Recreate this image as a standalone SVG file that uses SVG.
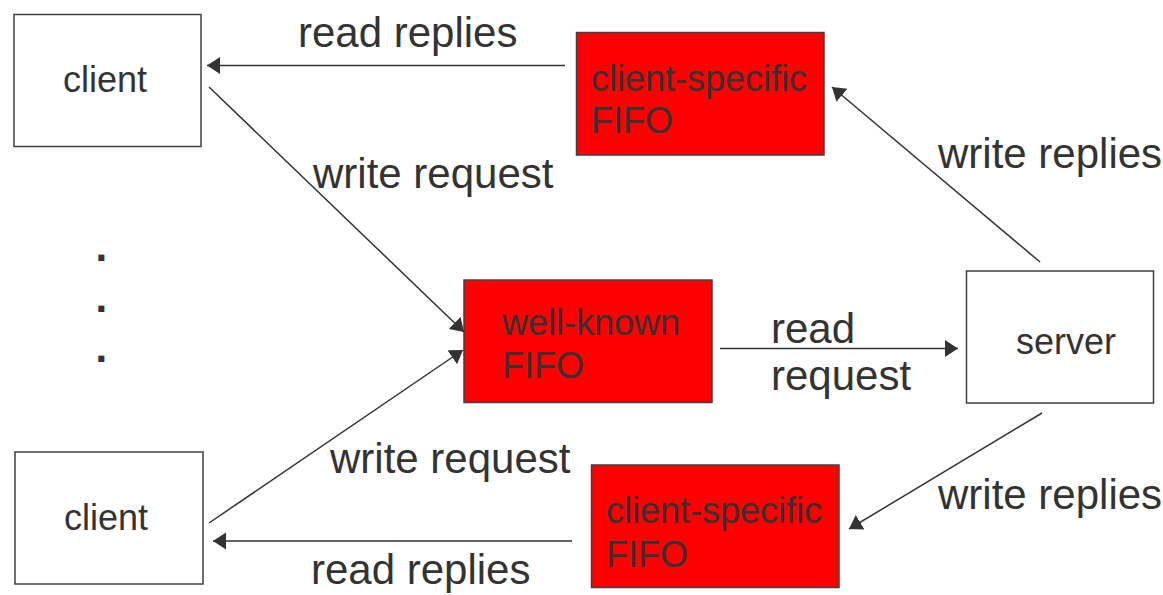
<svg xmlns="http://www.w3.org/2000/svg" width="1163" height="595" viewBox="0 0 1163 595">
<style>
  .box { fill: #ffffff; stroke: #404040; stroke-width: 1.5; }
  .fifo { fill: #ff0000; stroke: #404040; stroke-width: 1.5; }
  .t { font-family: "Liberation Sans", Arial, sans-serif; fill: #333333; }
  .node { font-size: 36px; }
  .ftxt { font-size: 36px; }
  .lbl { font-size: 42px; }
  .dot { font-size: 42px; font-weight: bold; }
  .conn { stroke: #333333; stroke-width: 1.5; fill: none; marker-end: url(#arr); }
</style>
<defs>
  <marker id="arr" markerUnits="userSpaceOnUse" markerWidth="14" markerHeight="18" refX="13" refY="8.5" orient="auto">
    <path d="M0,0 L13,8.5 L0,17 z" fill="#333333"/>
  </marker>
</defs>
<rect width="1163" height="595" fill="#ffffff"/>

<g id="client-top">
  <rect class="box" x="14" y="14.5" width="187" height="132"/>
  <text class="t node" x="105" y="92" text-anchor="middle">client</text>
</g>
<g id="client-bottom">
  <rect class="box" x="15" y="452" width="188" height="132"/>
  <text class="t node" x="106" y="530" text-anchor="middle">client</text>
</g>
<g id="fifo-top">
  <rect class="fifo" x="576.5" y="32.5" width="247.5" height="122.5"/>
  <text class="t ftxt" x="591" y="91">client-specific</text>
  <text class="t ftxt" x="591" y="133">FIFO</text>
</g>
<g id="fifo-well-known">
  <rect class="fifo" x="464" y="280" width="248" height="122.5"/>
  <text class="t ftxt" x="502" y="335">well-known</text>
  <text class="t ftxt" x="502" y="378">FIFO</text>
</g>
<g id="fifo-bottom">
  <rect class="fifo" x="591.5" y="465" width="247.5" height="122.5"/>
  <text class="t ftxt" x="606" y="523">client-specific</text>
  <text class="t ftxt" x="606" y="567">FIFO</text>
</g>
<g id="server">
  <rect class="box" x="966.5" y="271" width="187" height="132"/>
  <text class="t node" x="1066" y="354" text-anchor="middle">server</text>
</g>
<g id="dots">
  <text class="t dot" x="95.5" y="261">.</text>
  <text class="t dot" x="95.5" y="312">.</text>
  <text class="t dot" x="95.5" y="362">.</text>
</g>

<g id="connectors">
  <line class="conn" x1="565" y1="65.5" x2="207" y2="65.5"/>
  <line class="conn" x1="209" y1="87" x2="464" y2="332"/>
  <line class="conn" x1="209" y1="523" x2="463" y2="350"/>
  <line class="conn" x1="720" y1="348.5" x2="958" y2="348.5"/>
  <line class="conn" x1="1040" y1="262" x2="832" y2="87"/>
  <line class="conn" x1="1042" y1="413" x2="849" y2="529"/>
  <line class="conn" x1="572" y1="541" x2="213" y2="541"/>
</g>

<g id="labels">
  <text class="t lbl" x="298" y="47">read replies</text>
  <text class="t lbl" x="313" y="188">write request</text>
  <text class="t lbl" x="938" y="168">write replies</text>
  <text class="t lbl" x="771" y="343">read</text>
  <text class="t lbl" x="771" y="390">request</text>
  <text class="t lbl" x="330" y="473">write request</text>
  <text class="t lbl" x="938" y="509">write replies</text>
  <text class="t lbl" x="311" y="584">read replies</text>
</g>
</svg>
